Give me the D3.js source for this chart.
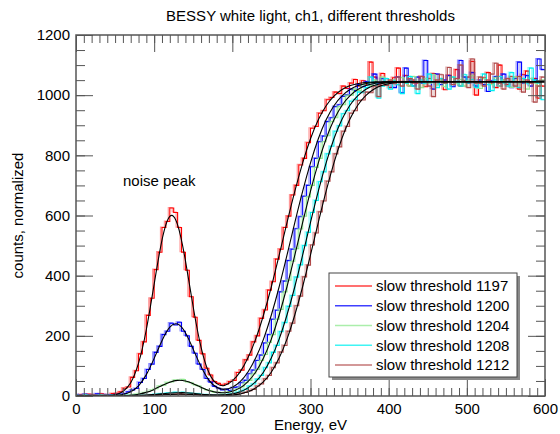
<!DOCTYPE html>
<html>
<head>
<meta charset="utf-8">
<script src="https://cdn.jsdelivr.net/npm/d3@7"></script>
<style>
  html, body { margin: 0; padding: 0; background: #fff; }
  svg { display: block; font-family: "Liberation Sans", Arial, Helvetica, sans-serif; }
</style>
</head>
<body>
<svg id="chart" width="560" height="434"></svg>
<script>
// Histogram binning (eV)
const binWidth = 5;
const energyBins = d3.range(2.5, 600, binWidth);   // bin centres

// Normalized counts per bin, one array per slow threshold
const histRed = [
  3, 5, 2, 6, 4, 3, 7, 5, 4, 8,
  9, 14, 26, 30, 62, 84, 140, 180, 268, 325,
  420, 478, 560, 580, 625, 610, 560, 478, 418, 330,
  262, 185, 140, 92, 70, 48, 42, 36, 40, 48,
  52, 78, 86, 120, 136, 180, 200, 258, 286, 352,
  380, 455, 488, 560, 598, 668, 700, 768, 790, 842,
  890, 896, 940, 948, 985, 992, 1010, 1005, 1030, 1022,
  1040, 1052, 1030, 1048, 1036, 1110, 1060, 1030, 1072, 1040,
  1025, 1058, 1090, 1045, 1065, 1030, 1050, 1040, 1062, 1028,
  1055, 1072, 1035, 1050, 1018, 1066, 1042, 1085, 1030, 1048,
  1060, 1112, 1000, 1040, 1058, 1075, 1040, 1025, 1100, 1050,
  1035, 1062, 1045, 1020, 1068, 1080, 1042, 1055, 990, 1030
];
const histBlue = [
  5, 3, 6, 2, 4, 7, 3, 5, 4, 3,
  5, 6, 8, 14, 20, 25, 45, 58, 88, 106,
  145, 165, 204, 215, 242, 236, 245, 215, 200, 165,
  142, 106, 88, 58, 46, 32, 26, 20, 22, 18,
  28, 30, 44, 52, 74, 86, 118, 136, 176, 204,
  255, 285, 346, 382, 450, 488, 556, 596, 664, 700,
  762, 790, 845, 864, 912, 925, 962, 968, 996, 1000,
  1020, 1015, 1035, 1028, 1045, 1032, 1070, 1040, 1055, 1038,
  1040, 1025, 1060, 1008, 1090, 1050, 1030, 1060, 1040, 1115,
  1045, 1020, 1070, 1035, 1050, 1065, 1028, 1045, 1115, 1060,
  1040, 1075, 1030, 1050, 1035, 1012, 1048, 1062, 1030, 1070,
  1045, 1025, 1055, 1110, 1040, 1065, 1030, 1050, 1120, 1085
];
const histGreen = [
  2, 1, 3, 0, 2, 1, 3, 2, 1, 2,
  1, 2, 1, 3, 4, 6, 8, 11, 15, 20,
  24, 33, 36, 45, 47, 53, 52, 55, 47, 44,
  37, 33, 25, 20, 17, 12, 12, 10, 12, 14,
  18, 24, 30, 44, 52, 74, 88, 118, 138, 178,
  204, 255, 288, 346, 385, 448, 490, 555, 598, 662,
  700, 760, 790, 845, 865, 912, 925, 962, 968, 998,
  1000, 1020, 1015, 1035, 1040, 1032, 1050, 1042, 1060, 1038,
  1045, 1050, 1035, 1058, 1040, 1030, 1062, 1045, 1025, 1055,
  1040, 1068, 1035, 1050, 1028, 1045, 1060, 1038, 1052, 1030,
  1048, 1065, 1040, 1022, 1055, 1045, 1035, 1058, 1030, 1050,
  1042, 1026, 1060, 1038, 1048, 1020, 1055, 1040, 1030, 1050
];
const histCyan = [
  1, 0, 2, 1, 0, 1, 2, 0, 1, 1,
  0, 2, 1, 1, 1, 2, 2, 3, 4, 4,
  6, 7, 8, 10, 10, 12, 11, 12, 10, 9,
  8, 7, 5, 5, 4, 3, 4, 4, 5, 6,
  9, 12, 17, 22, 33, 40, 56, 68, 94, 110,
  145, 168, 214, 244, 298, 334, 395, 436, 500, 544,
  610, 650, 712, 745, 805, 830, 880, 898, 938, 948,
  980, 985, 1010, 1008, 1025, 1060, 1040, 990, 1030, 1055,
  1020, 1048, 1035, 1005, 1040, 1062, 1030, 1005, 1050, 1038,
  1070, 1045, 1025, 1055, 1040, 1020, 1060, 1045, 1030, 1068,
  1040, 1052, 1025, 1045, 1070, 1035, 1015, 1050, 1062, 1040,
  1030, 1075, 1045, 1025, 1055, 1038, 1090, 1050, 1040, 985
];
const histBrown = [
  1, 2, 0, 1, 3, 1, 0, 2, 1, 0,
  2, 1, 1, 0, 1, 1, 1, 2, 2, 3,
  3, 4, 5, 5, 6, 6, 7, 6, 5, 5,
  4, 4, 3, 2, 2, 2, 2, 2, 2, 3,
  4, 6, 9, 12, 18, 22, 33, 40, 57, 68,
  94, 110, 146, 168, 215, 242, 300, 332, 396, 435,
  502, 542, 612, 648, 714, 745, 805, 828, 880, 896,
  940, 948, 982, 984, 1010, 1008, 1028, 995, 1040, 1032,
  1050, 1038, 1060, 1030, 1045, 1055, 1040, 1020, 1062, 1045,
  1030, 995, 1050, 1068, 1040, 1092, 1035, 1055, 1100, 1045,
  1025, 1120, 1040, 1060, 1030, 1050, 1070, 1106, 1040, 1020,
  1055, 1045, 1030, 1062, 1010, 1050, 1040, 977, 1030, 1060
];

// Fitted model (noise peak + edge), sampled every 10 eV
const fitEnergy = d3.range(0, 601, 10);
const fitRed = [
  0, 0, 0, 0, 1, 4, 15, 44, 109, 221,
  372, 518, 597, 569, 450, 295, 162, 78, 41, 35,
  50, 80, 127, 190, 270, 364, 469, 577, 681, 775,
  855, 918, 965, 997, 1018, 1031, 1038, 1042, 1044, 1044,
  1045, 1045, 1045, 1045, 1045, 1045, 1045, 1045, 1045, 1045,
  1045, 1045, 1045, 1045, 1045, 1045, 1045, 1045, 1045, 1045,
  1045
];
const fitBlue = [
  0, 0, 0, 0, 0, 1, 5, 14, 34, 71,
  125, 184, 229, 239, 210, 155, 98, 53, 29, 22,
  29, 48, 80, 127, 190, 270, 364, 469, 577, 681,
  775, 855, 918, 965, 997, 1018, 1031, 1038, 1042, 1044,
  1044, 1045, 1045, 1045, 1045, 1045, 1045, 1045, 1045, 1045,
  1045, 1045, 1045, 1045, 1045, 1045, 1045, 1045, 1045, 1045,
  1045
];
const fitGreen = [
  0, 0, 0, 0, 0, 0, 1, 2, 6, 12,
  22, 35, 46, 52, 50, 41, 29, 18, 12, 11,
  16, 27, 48, 80, 127, 190, 270, 364, 469, 577,
  681, 775, 855, 918, 965, 997, 1018, 1031, 1038, 1042,
  1044, 1044, 1045, 1045, 1045, 1045, 1045, 1045, 1045, 1045,
  1045, 1045, 1045, 1045, 1045, 1045, 1045, 1045, 1045, 1045,
  1045
];
const fitCyan = [
  0, 0, 0, 0, 0, 0, 0, 1, 1, 3,
  5, 7, 10, 11, 11, 9, 6, 4, 3, 4,
  7, 14, 27, 48, 80, 127, 190, 270, 364, 469,
  577, 681, 775, 855, 918, 965, 997, 1018, 1031, 1038,
  1042, 1044, 1044, 1045, 1045, 1045, 1045, 1045, 1045, 1045,
  1045, 1045, 1045, 1045, 1045, 1045, 1045, 1045, 1045, 1045,
  1045
];
const fitBrown = [
  0, 0, 0, 0, 0, 0, 0, 0, 1, 1,
  3, 4, 5, 6, 6, 5, 3, 2, 2, 2,
  3, 7, 14, 27, 48, 80, 127, 190, 270, 364,
  469, 577, 681, 775, 855, 918, 965, 997, 1018, 1031,
  1038, 1042, 1044, 1044, 1045, 1045, 1045, 1045, 1045, 1045,
  1045, 1045, 1045, 1045, 1045, 1045, 1045, 1045, 1045, 1045,
  1045
];

const seriesLabels = [
  "slow threshold 1197", "slow threshold 1200", "slow threshold 1204",
  "slow threshold 1208", "slow threshold 1212"
];
const seriesColors = ["#ff0000", "#0000ff", "#8fe88f", "#00f0f0", "#b04848"];
const histograms = [histRed, histBlue, histGreen, histCyan, histBrown];
const fits = [fitRed, fitBlue, fitGreen, fitCyan, fitBrown];

const xTicks = [0, 100, 200, 300, 400, 500, 600];
const yTicks = [0, 200, 400, 600, 800, 1000, 1200];

const titleText = "BESSY white light, ch1, different thresholds";
const xLabel = "Energy, eV";
const yLabel = "counts, normalized";
const annotation = "noise peak";

// ---------------------------------------------------------------
const plotL = 76, plotR = 545, plotT = 35, plotB = 396;
const axisColor = "#555";

const x = d3.scaleLinear().domain([0, 600]).range([plotL, plotR]);
const y = d3.scaleLinear().domain([0, 1200]).range([plotB, plotT]);

const svg = d3.select("#chart");

svg.append("defs").append("clipPath").attr("id", "plotClip")
  .append("rect")
  .attr("x", plotL).attr("y", plotT)
  .attr("width", plotR - plotL).attr("height", plotB - plotT);

const dataLayer = svg.append("g").attr("clip-path", "url(#plotClip)");

// Histograms as step lines over bin edges
const stepLine = d3.line()
  .x(d => x(d[0]))
  .y(d => y(d[1]))
  .curve(d3.curveStepAfter);

function binEdges(vals) {
  const pts = vals.map((v, i) => [energyBins[i] - binWidth / 2, v]);
  const last = vals.length - 1;
  pts.push([energyBins[last] + binWidth / 2, vals[last]]);
  return pts;
}

histograms.forEach((vals, i) => {
  const pts = binEdges(vals);
  // soft under-stroke
  dataLayer.append("path")
    .attr("d", stepLine(pts))
    .attr("transform", "translate(-1.5,-0.5)")
    .attr("fill", "none")
    .attr("stroke", seriesColors[i])
    .attr("stroke-opacity", 0.4)
    .attr("stroke-width", 1.2);
  dataLayer.append("path")
    .attr("d", stepLine(pts))
    .attr("fill", "none")
    .attr("stroke", seriesColors[i])
    .attr("stroke-width", 1.1);
});

// Fitted curves
const fitLine = d3.line()
  .x((d, i) => x(fitEnergy[i]))
  .y(d => y(d))
  .curve(d3.curveNatural);

fits.forEach(vals => {
  dataLayer.append("path")
    .attr("d", fitLine(vals))
    .attr("fill", "none")
    .attr("stroke", "#000")
    .attr("stroke-width", 1.1);
});

// ---------------------------------------------------------------
// Axes: ticks point inward on all four sides
function styleAxis(g, showText) {
  g.select(".domain").remove();
  g.selectAll(".tick line").attr("stroke", axisColor).attr("stroke-width", 1);
  g.selectAll(".tick text")
    .attr("fill", "#000")
    .style("font-size", "15px")
    .style("font-family", "'Liberation Sans', Arial, Helvetica, sans-serif");
  if (!showText) g.selectAll(".tick text").remove();
}

const xMinor = d3.range(0, 601, 10);
const yMinor = d3.range(0, 1201, 50);

svg.append("g").attr("transform", `translate(0,${plotB})`)
  .call(d3.axisBottom(x).tickValues(xMinor).tickSizeInner(-8).tickSizeOuter(0).tickFormat(""))
  .call(g => styleAxis(g, false));
svg.append("g").attr("transform", `translate(0,${plotB})`)
  .call(d3.axisBottom(x).tickValues(xTicks).tickSizeInner(-17).tickSizeOuter(0).tickPadding(7).tickFormat(d3.format("d")))
  .call(g => styleAxis(g, true));

svg.append("g").attr("transform", `translate(0,${plotT})`)
  .call(d3.axisTop(x).tickValues(xMinor).tickSizeInner(-8).tickSizeOuter(0).tickFormat(""))
  .call(g => styleAxis(g, false));
svg.append("g").attr("transform", `translate(0,${plotT})`)
  .call(d3.axisTop(x).tickValues(xTicks).tickSizeInner(-17).tickSizeOuter(0).tickFormat(""))
  .call(g => styleAxis(g, false));

svg.append("g").attr("transform", `translate(${plotL},0)`)
  .call(d3.axisLeft(y).tickValues(yMinor).tickSizeInner(-9).tickSizeOuter(0).tickFormat(""))
  .call(g => styleAxis(g, false));
svg.append("g").attr("transform", `translate(${plotL},0)`)
  .call(d3.axisLeft(y).tickValues(yTicks).tickSizeInner(-17).tickSizeOuter(0).tickPadding(6).tickFormat(d3.format("d")))
  .call(g => styleAxis(g, true));

svg.append("g").attr("transform", `translate(${plotR},0)`)
  .call(d3.axisRight(y).tickValues(yMinor).tickSizeInner(-9).tickSizeOuter(0).tickFormat(""))
  .call(g => styleAxis(g, false));
svg.append("g").attr("transform", `translate(${plotR},0)`)
  .call(d3.axisRight(y).tickValues(yTicks).tickSizeInner(-17).tickSizeOuter(0).tickFormat(""))
  .call(g => styleAxis(g, false));

// Frame
svg.append("rect")
  .attr("x", plotL).attr("y", plotT)
  .attr("width", plotR - plotL).attr("height", plotB - plotT)
  .attr("fill", "none")
  .attr("stroke", axisColor)
  .attr("stroke-width", 1.5);

// ---------------------------------------------------------------
// Titles and labels
svg.append("text")
  .attr("x", (plotL + plotR) / 2).attr("y", 21)
  .attr("text-anchor", "middle")
  .style("font-size", "15px")
  .text(titleText);

svg.append("text")
  .attr("x", (plotL + plotR) / 2).attr("y", 430)
  .attr("text-anchor", "middle")
  .style("font-size", "15px")
  .text(xLabel);

svg.append("text")
  .attr("transform", `translate(23,${(plotT + plotB) / 2}) rotate(-90)`)
  .attr("text-anchor", "middle")
  .style("font-size", "15px")
  .text(yLabel);

svg.append("text")
  .attr("x", 123).attr("y", 186)
  .style("font-size", "15px")
  .text(annotation);

// ---------------------------------------------------------------
// Legend
const lg = { x: 329, y: 273, w: 188, h: 104, row: 19.75, first: 286 };
const legend = svg.append("g");
legend.append("rect")
  .attr("x", lg.x + 3).attr("y", lg.y + 3)
  .attr("width", lg.w).attr("height", lg.h)
  .attr("fill", "#8a8a8a");
legend.append("rect")
  .attr("x", lg.x).attr("y", lg.y)
  .attr("width", lg.w).attr("height", lg.h)
  .attr("fill", "#fff")
  .attr("stroke", "#444")
  .attr("stroke-width", 1);

seriesLabels.forEach((label, i) => {
  const cy = lg.first + i * lg.row;
  legend.append("line")
    .attr("x1", lg.x + 6).attr("x2", lg.x + 43)
    .attr("y1", cy).attr("y2", cy)
    .attr("stroke", seriesColors[i])
    .attr("stroke-opacity", 0.75)
    .attr("stroke-width", 1.5);
  legend.append("text")
    .attr("x", lg.x + 47).attr("y", cy)
    .attr("dy", "0.35em")
    .style("font-size", "15px")
    .text(label);
});
</script>
</body>
</html>
